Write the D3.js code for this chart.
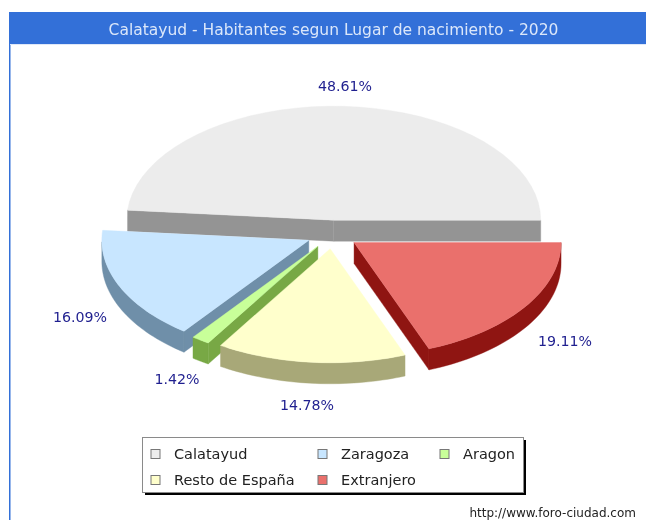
<!DOCTYPE html>
<html>
<head>
	<title></title>
	<style>
		body { margin: 0; background: #fff; }
		svg { display: block; filter: blur(0.4px); }
		text { font-family: "DejaVu Sans", sans-serif; }
	</style>
</head>
<body>
	<svg id="container" height="520" width="646"></svg>
</body>
<script src="https://d3js.org/d3.v7.min.js"></script>
<script>
	const titleText = "Calatayud - Habitantes segun Lugar de nacimiento - 2020"
	const footerText = "http://www.foro-ciudad.com"
	const places = ["Calatayud", "Zaragoza", "Aragon", "Resto de España", "Extranjero"]
	const shares = [48.61, 16.09, 1.42, 14.78, 19.11]

	const topColors = ["#ececec", "#c8e6ff", "#c8ff99", "#ffffcc", "#ea706c"]
	const sideColors = ["#949494", "#6f8fa9", "#78a845", "#a8a878", "#8f1512"]

	// label centres, the original chart places them by hand-ish rules
	const labelX = [345, 80, 177, 307, 565]
	const labelY = [86, 317, 379, 405, 341]

	let svg = d3.select("#container")

	// header band and left border
	svg.append("rect").attr("x", 9).attr("y", 12).attr("width", 637).attr("height", 32).attr("fill", "#3370d8")
	svg.append("rect").attr("x", 9).attr("y", 44).attr("width", 1.5).attr("height", 476).attr("fill", "#3370d8")
	svg.append("rect").attr("x", 10).attr("y", 44).attr("width", 636).attr("height", 1).attr("fill", "#dfe8f8")
	svg.append("text")
		.attr("x", 333.5).attr("y", 35)
		.attr("text-anchor", "middle")
		.attr("font-size", 15.5)
		.attr("fill", "#dbe7fa")
		.text(titleText)

	// pie is a flattened circle, so unit circle coords go through these two scales
	let cx = 332.6, cy = 234.5, rx = 207, ry = 114, depth = 21, explode = 26 / 207
	let x = d3.scaleLinear().domain([-1, 1]).range([cx - rx, cx + rx])
	let y = d3.scaleLinear().domain([-1, 1]).range([cy + ry, cy - ry])

	let pie = d3.pie().sort(null).startAngle(0).endAngle(2 * Math.PI)
	let slices = pie(shares)

	function outline(d, drop) {
		let mid = (d.startAngle + d.endAngle) / 2
		let ox = explode * Math.cos(mid), oy = explode * Math.sin(mid)
		let steps = d3.range(0, 41).map(i => d.startAngle + (d.endAngle - d.startAngle) * i / 40)
		return {
			apex: [x(ox), y(oy) + drop],
			angles: steps,
			rim: steps.map(t => [x(ox + Math.cos(t)), y(oy + Math.sin(t)) + drop])
		}
	}

	let line = d3.line()

	slices.forEach((d, i) => {
		let up = outline(d, 0), down = outline(d, depth)
		let g = svg.append("g")
		let sides = []
		// only faces that look at the viewer, hidden ones leave a dark fringe
		if (Math.cos(d.startAngle) > 0) sides.push([up.apex, up.rim[0], down.rim[0], down.apex])
		if (Math.cos(d.endAngle) < 0) sides.push([up.apex, up.rim[40], down.rim[40], down.apex])
		let front = d3.range(0, 41).filter(k => Math.sin(up.angles[k]) <= 0)
		if (front.length > 1) {
			sides.push(front.map(k => up.rim[k]).concat(front.map(k => down.rim[k]).reverse()))
		}
		g.selectAll("path.side")
			.data(sides)
			.enter().append("path")
			.attr("class", "side")
			.attr("d", p => line(p) + "Z")
			.attr("fill", sideColors[i])
			.attr("stroke", sideColors[i])
			.attr("stroke-width", 0.4)
		g.append("path")
			.attr("d", line([up.apex].concat(up.rim)) + "Z")
			.attr("fill", topColors[i])
			.attr("stroke", topColors[i])
			.attr("stroke-width", 0.4)
	})

	svg.selectAll("text.pct")
		.data(shares)
		.enter().append("text")
		.attr("class", "pct")
		.attr("x", (d, i) => labelX[i])
		.attr("y", (d, i) => labelY[i] + 5)
		.attr("text-anchor", "middle")
		.attr("font-size", 14.2)
		.attr("fill", "#1f1f8f")
		.text(d => d3.format(".2f")(d) + "%")

	// legend
	let legX = [154.5, 321.5, 443.5, 154.5, 321.5]
	let legY = [455, 455, 455, 481, 481]
	svg.append("rect").attr("x", 145).attr("y", 440).attr("width", 381).attr("height", 55).attr("fill", "#000")
	svg.append("rect").attr("x", 142.5).attr("y", 437.5).attr("width", 381).attr("height", 55)
		.attr("fill", "#fff").attr("stroke", "#8a8a8a")
	let leg = svg.selectAll("g.leg")
		.data(places)
		.enter().append("g")
		.attr("class", "leg")
		.attr("transform", (d, i) => `translate(${legX[i]},${legY[i]})`)
	leg.append("rect")
		.attr("x", -3.5).attr("y", -5.5)
		.attr("width", 9).attr("height", 9)
		.attr("fill", (d, i) => topColors[i])
		.attr("stroke", "#777")
	leg.append("text")
		.attr("x", 19.5).attr("y", 4)
		.attr("font-size", 14.5)
		.attr("fill", "#222")
		.text(d => d)

	svg.append("text")
		.attr("x", 636).attr("y", 517)
		.attr("text-anchor", "end")
		.attr("font-size", 12)
		.attr("fill", "#222")
		.text(footerText)
</script>
</html>
